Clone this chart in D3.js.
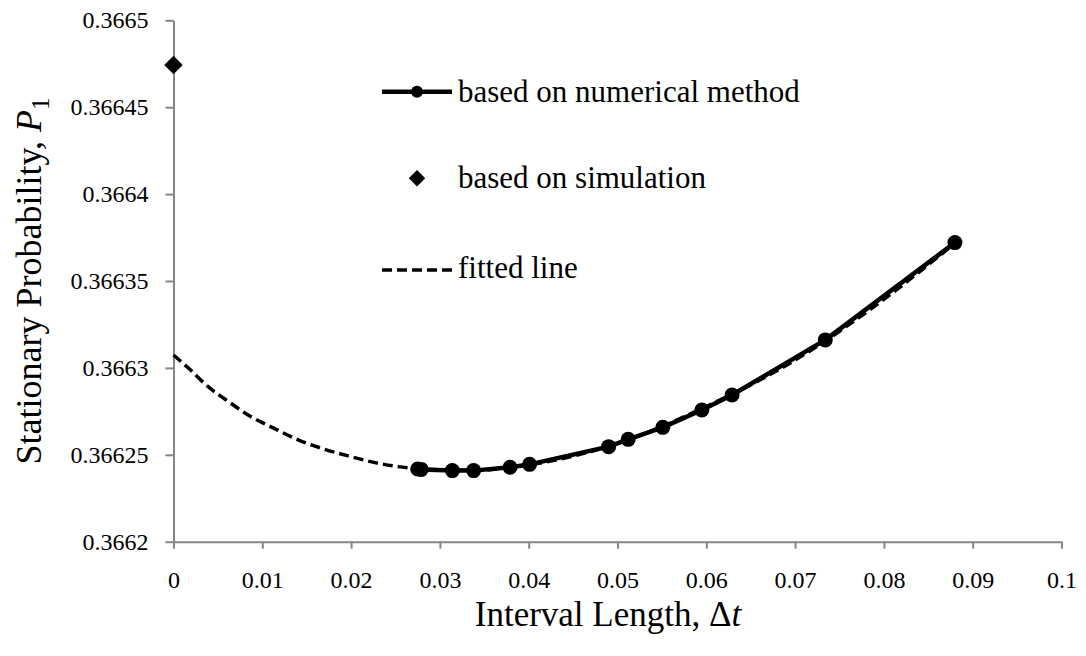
<!DOCTYPE html>
<html>
<head>
<meta charset="utf-8">
<script src="https://cdn.jsdelivr.net/npm/d3@7"></script>
<style>
  body { margin: 0; background: #fff; }
  svg text { font-family: "Liberation Serif", Tinos, "Times New Roman", Times, "DejaVu Serif", serif; fill: #000; }
</style>
</head>
<body>
<div id="chart"></div>
<script>
// Data
var numX = [0.0275, 0.0279, 0.0314, 0.0338, 0.0379, 0.0401, 0.0490, 0.0512, 0.0551, 0.0595, 0.0629, 0.0734, 0.0880];
var numP = [0.3662418, 0.3662416, 0.3662409, 0.3662409, 0.3662428, 0.3662445, 0.3662547, 0.3662589, 0.3662658, 0.3662758, 0.3662844, 0.3663161, 0.3663721];

var simX = [0];
var simP = [0.3664743];

var fitX = [0, 0.0017, 0.0039, 0.0062, 0.0084, 0.0111, 0.0141, 0.0167, 0.0197, 0.0227, 0.0253, 0.0276, 0.0300, 0.0340, 0.0400, 0.0500, 0.0600, 0.0700, 0.0800, 0.0880];
var fitP = [0.3663074, 0.3662998, 0.3662892, 0.3662806, 0.3662729, 0.3662658, 0.3662585, 0.3662537, 0.3662493, 0.3662455, 0.3662432, 0.3662420, 0.3662413, 0.3662411, 0.3662442, 0.3662565, 0.3662778, 0.3663045, 0.3663395, 0.3663718];

var xTicks = [0, 0.01, 0.02, 0.03, 0.04, 0.05, 0.06, 0.07, 0.08, 0.09, 0.1];
var yTicks = [0.3662, 0.36625, 0.3663, 0.36635, 0.3664, 0.36645, 0.3665];

var legendLabels = ["based on numerical method", "based on simulation", "fitted line"];

// SVG area
var svgWidth = 1086;
var svgHeight = 656;

var margin = { top: 20.3, right: 24.5, bottom: 114.3, left: 173.5 };
var chartWidth = svgWidth - margin.left - margin.right;
var chartHeight = svgHeight - margin.top - margin.bottom;

var serif = "'Liberation Serif', Tinos, 'Times New Roman', Times, 'DejaVu Serif', serif";

var svg = d3.select("#chart")
  .append("svg")
  .attr("width", svgWidth)
  .attr("height", svgHeight)
  .attr("font-family", serif);

var chartGroup = svg.append("g")
  .attr("transform", `translate(${margin.left}, ${margin.top})`);

// Scales
var xScale = d3.scaleLinear().domain([0, 0.1]).range([0, chartWidth]);
var yScale = d3.scaleLinear().domain([0.3662, 0.3665]).range([chartHeight, 0]);

var fmt = d => String(+d.toFixed(5));

// Axes
var leftAxis = d3.axisLeft(yScale).tickValues(yTicks).tickFormat(fmt)
  .tickSize(8).tickSizeOuter(0).tickPadding(17);
var bottomAxis = d3.axisBottom(xScale).tickValues(xTicks).tickFormat(fmt)
  .tickSize(7).tickSizeOuter(0).tickPadding(22);

var yAxisG = chartGroup.append("g").call(leftAxis);
var xAxisG = chartGroup.append("g")
  .attr("transform", `translate(0, ${chartHeight})`)
  .call(bottomAxis);

[yAxisG, xAxisG].forEach(function(g) {
  g.attr("font-family", serif).attr("font-size", 24);
  g.select(".domain").attr("stroke", "#868686").attr("stroke-width", 2);
  g.selectAll(".tick line").attr("stroke", "#868686").attr("stroke-width", 2);
  g.selectAll(".tick text").attr("fill", "#000");
});

// Fitted line (dashed)
var fitData = fitX.map((x, i) => ({ x: x, p: fitP[i] }));
var fitLine = d3.line()
  .x(d => xScale(d.x))
  .y(d => yScale(d.p))
  .curve(d3.curveMonotoneX);

chartGroup.append("path")
  .datum(fitData)
  .attr("fill", "none")
  .attr("stroke", "#000")
  .attr("stroke-width", 3.5)
  .attr("stroke-dasharray", "10,5")
  .attr("d", fitLine);

// Numerical method line with markers
var numData = numX.map((x, i) => ({ x: x, p: numP[i] }));
var numLine = d3.line()
  .x(d => xScale(d.x))
  .y(d => yScale(d.p));

chartGroup.append("path")
  .datum(numData)
  .attr("fill", "none")
  .attr("stroke", "#000")
  .attr("stroke-width", 4.5)
  .attr("stroke-linejoin", "round")
  .attr("d", numLine);

chartGroup.selectAll(".dot")
  .data(numData)
  .enter()
  .append("circle")
  .attr("class", "dot")
  .attr("cx", d => xScale(d.x))
  .attr("cy", d => yScale(d.p))
  .attr("r", 7.5)
  .attr("fill", "#000");

// Simulation point (diamond)
var diamond = d3.symbol().type(d3.symbolSquare).size(170);
chartGroup.selectAll(".sim")
  .data(simX.map((x, i) => ({ x: x, p: simP[i] })))
  .enter()
  .append("path")
  .attr("class", "sim")
  .attr("d", diamond)
  .attr("transform", d => `translate(${xScale(d.x)}, ${yScale(d.p)}) rotate(45)`)
  .attr("fill", "#000");

// Legend
var legend = svg.append("g");
var legendY = [101.7, 188.3, 278];

legendLabels.forEach(function(label, i) {
  var row = legend.append("g").attr("transform", `translate(0, ${legendY[i]})`);
  if (i === 0) {
    row.append("line").attr("x1", 382).attr("x2", 452).attr("y1", -10).attr("y2", -10)
      .attr("stroke", "#000").attr("stroke-width", 4.5);
    row.append("circle").attr("cx", 417).attr("cy", -10).attr("r", 6).attr("fill", "#000");
  } else if (i === 1) {
    row.append("path").attr("d", d3.symbol().type(d3.symbolSquare).size(135))
      .attr("transform", "translate(417, -10) rotate(45)").attr("fill", "#000");
  } else {
    row.append("line").attr("x1", 382).attr("x2", 452).attr("y1", -8).attr("y2", -8)
      .attr("stroke", "#000").attr("stroke-width", 3.5).attr("stroke-dasharray", "10,5");
  }
  row.append("text")
    .attr("x", 458)
    .attr("y", 0)
    .attr("font-size", 31)
    .text(label);
});

// Axis titles
var xTitle = svg.append("text")
  .attr("x", 608)
  .attr("y", 626)
  .attr("text-anchor", "middle")
  .attr("font-size", 35);
xTitle.append("tspan").text("Interval Length, Δ");
xTitle.append("tspan").attr("font-style", "italic").text("t");

var yTitle = svg.append("text")
  .attr("transform", `translate(41, ${margin.top + chartHeight / 2}) rotate(-90)`)
  .attr("text-anchor", "middle")
  .attr("font-size", 36);
yTitle.append("tspan").text("Stationary Probability, ");
yTitle.append("tspan").attr("font-style", "italic").text("P");
yTitle.append("tspan").attr("dy", 8).attr("font-size", 25).text("1");
</script>
</body>
</html>
